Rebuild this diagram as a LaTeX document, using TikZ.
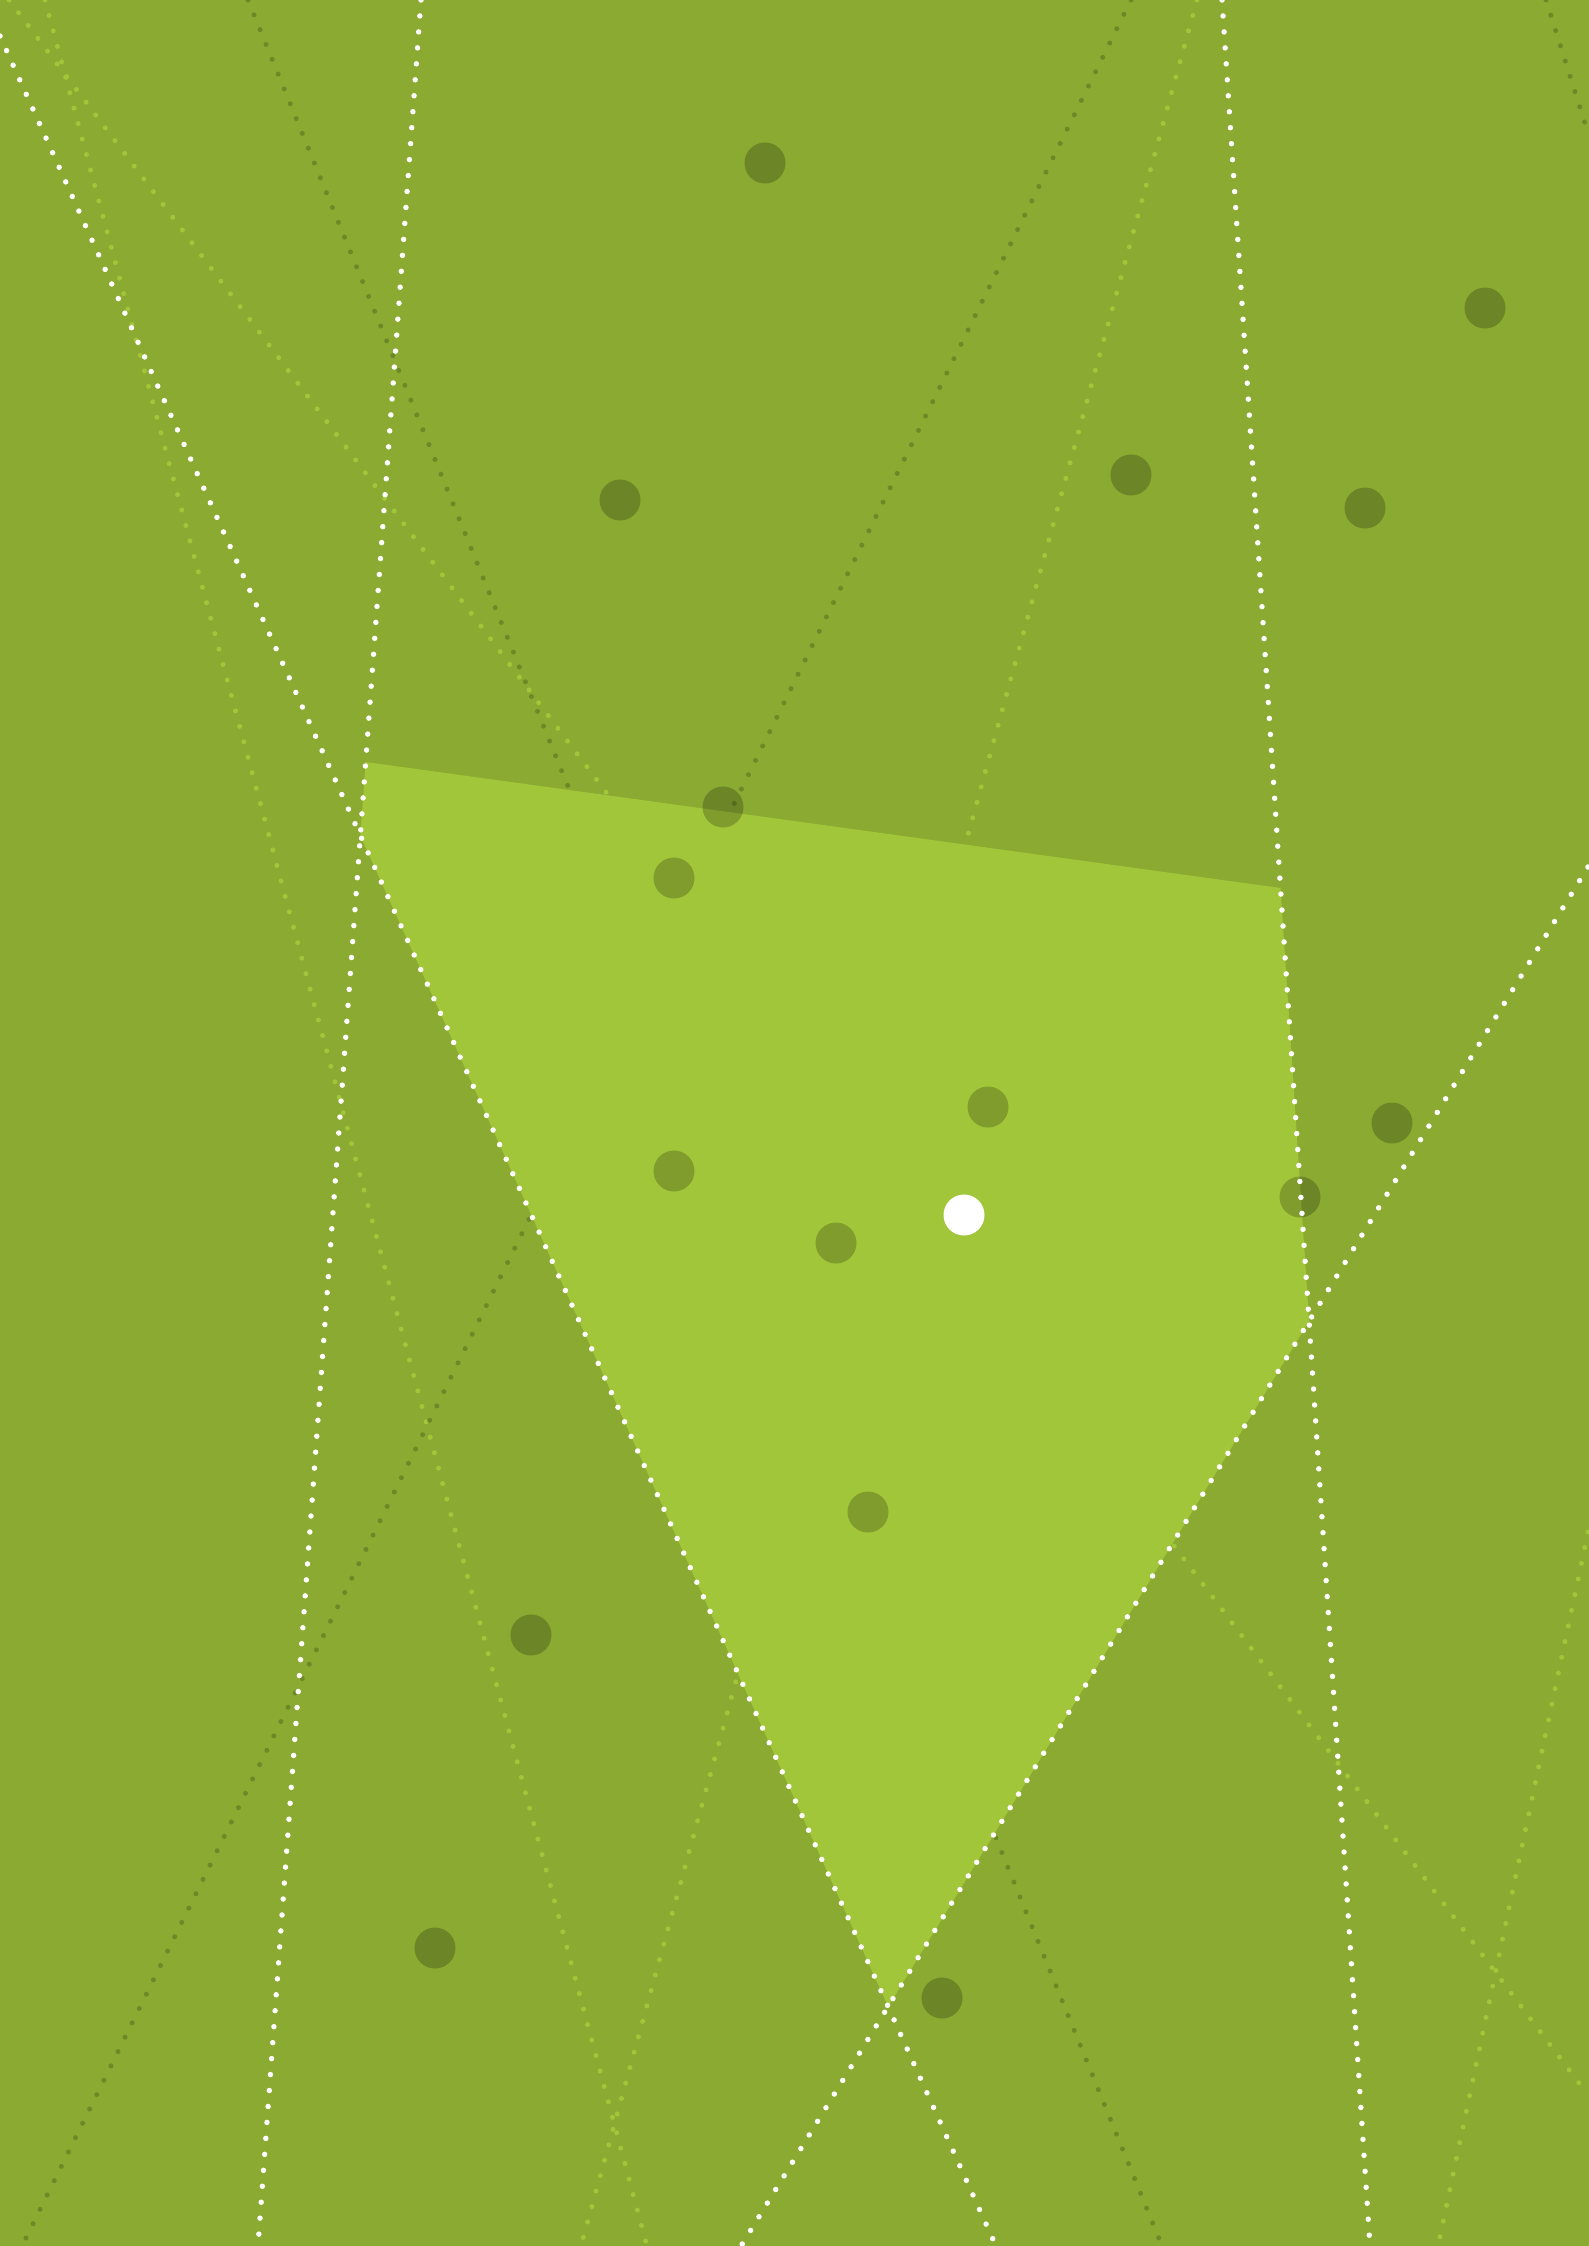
\documentclass[tikz,border=0pt]{standalone}
\definecolor{bgc}{HTML}{8AAA32}
\definecolor{cellc}{HTML}{A2C63A}
\definecolor{lightdotc}{HTML}{A2C63A}
\definecolor{darkdotc}{HTML}{6B8A27}
\begin{document}
\begin{tikzpicture}[x=1pt,y=-1pt,
  dotline/.style={line width=5pt, line cap=round, dash pattern=on 0pt off 16pt},
  wline/.style={dotline, white, line width=5.5pt},
  lline/.style={dotline, lightdotc},
  dline/.style={dotline, darkdotc},
  site/.style={circle, fill=black, fill opacity=0.21, minimum size=41pt, inner sep=0pt},
  mainsite/.style={circle, fill=white, minimum size=41pt, inner sep=0pt}]
\useasboundingbox (0,0) rectangle (1588,2246);
\clip (-3,-3) rectangle (1591,2249);
\fill[bgc] (-3,-3) rectangle (1591,2249);
% line end points
\coordinate (w1a) at (0,36);    \coordinate (w1b) at (996,2246);
\coordinate (w2a) at (421,0);   \coordinate (w2b) at (258,2246);
\coordinate (w3a) at (1222,0);  \coordinate (w3b) at (1370,2246);
\coordinate (w4a) at (1588,867);\coordinate (w4b) at (741,2246);
\coordinate (d1a) at (248,0);   \coordinate (d1b) at (1162,2246);
\coordinate (d2a) at (1131,0);  \coordinate (d2b) at (22,2246);
\coordinate (d3a) at (1546,0);  \coordinate (d3b) at (1588,133);
\coordinate (l1a) at (45,0);    \coordinate (l1b) at (647,2246);
\coordinate (l2a) at (9,0);     \coordinate (l2b) at (1588,2095);
\coordinate (l3a) at (1197,0);  \coordinate (l3b) at (581,2246);
\coordinate (l4a) at (1588,1532);\coordinate (l4b) at (1438,2246);
% background dotted lines
\draw[lline] (l1a) -- (l1b);
\draw[lline] (l2a) -- (l2b);
\draw[lline] (l3a) -- (l3b);
\draw[lline] (l4a) -- (l4b);
\draw[dline] (d1a) -- (d1b);
\draw[dline] (d2a) -- (d2b);
\draw[dline] (d3a) -- (d3b);
% highlighted cell
\coordinate (tl) at (365.7,762);
\coordinate (tr) at (1280.5,888);
\coordinate (rv) at (intersection of w3a--w3b and w4a--w4b);
\coordinate (bv) at (intersection of w1a--w1b and w4a--w4b);
\coordinate (lv) at (intersection of w1a--w1b and w2a--w2b);
\fill[cellc] (tl) -- (tr) -- (rv) -- (bv) -- (lv) -- cycle;
% sites
\node[site] (s1) at (765,163) {};
\node[site] (s2) at (1485,308) {};
\node[site] (s3) at (620,500) {};
\node[site] (s4) at (1131,475) {};
\node[site] (s5) at (1365,508) {};
\node[site] (s6) at (723,807) {};
\node[site] (s7) at (1392,1123) {};
\node[site] (s8) at (1300,1197) {};
\node[site] (s9) at (531,1635) {};
\node[site] (s10) at (435,1948) {};
\node[site] (s11) at (942,1998) {};
\node[site] (s12) at (674,878) {};
\node[site] (s13) at (988,1107) {};
\node[site] (s14) at (674,1171) {};
\node[site] (s15) at (836,1243) {};
\node[site] (s16) at (868,1512) {};
\node[mainsite] (m) at (964,1215) {};
% white dotted lines on top
\draw[wline] (w1a) -- (w1b);
\draw[wline] (w2a) -- (w2b);
\draw[wline] (w3a) -- (w3b);
\draw[wline] (w4a) -- (w4b);
\end{tikzpicture}
\end{document}
